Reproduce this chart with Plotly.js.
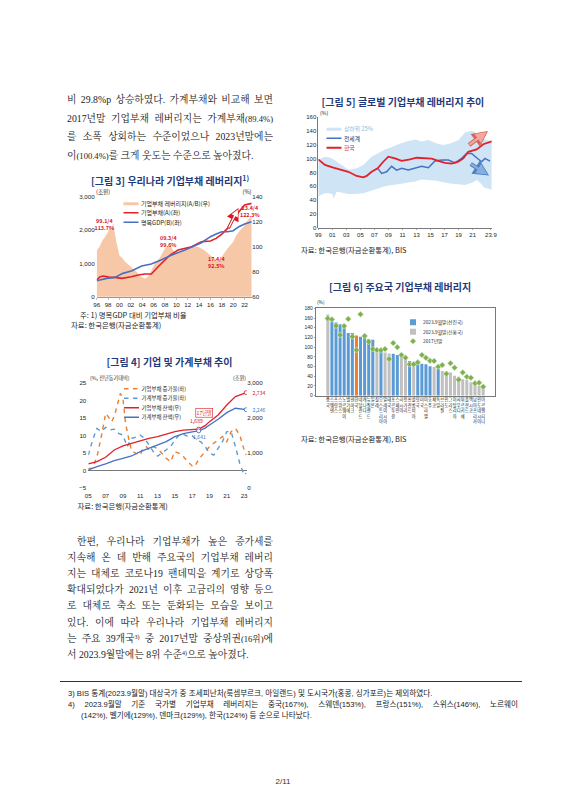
<!DOCTYPE html>
<html>
<head>
<meta charset="utf-8">
<script src="https://cdn.plot.ly/plotly-3.0.1.min.js"></script>
<style>
  html, body { margin: 0; padding: 0; background: #fff; overflow: hidden; }
  #page { position: relative; width: 566px; height: 800px; overflow: hidden; background: #fff; }
  #plot { position: absolute; left: 0; top: 0; width: 1132px; height: 1600px; transform: scale(0.5); transform-origin: 0 0; }
  .ln { position: absolute; height: 14px; line-height: 14px; color: #222; white-space: normal;
        font-family: 'Liberation Serif', 'Noto Serif CJK KR', 'Noto Sans CJK KR', serif; font-size: 9.8px;
        text-align: justify; text-align-last: justify; }
  .ln.last { text-align-last: left; }
  .sm { font-size: 8.6px; }
  .ln sup { font-size: 6px; line-height: 0; vertical-align: 3px; }
  .fn { position: absolute; height: 11px; line-height: 11px; color: #222; font-family: 'Liberation Sans', 'Noto Sans CJK KR', sans-serif;
        font-size: 7.6px; text-align: justify; text-align-last: justify; }
  .fn.last { text-align-last: left; }
  #rule { position: absolute; left: 60px; top: 681px; width: 462px; height: 0; border-top: 1px solid #333; }
  #pgno { position: absolute; left: 0; width: 566px; top: 777px; text-align: center; font-family: 'Liberation Sans', sans-serif; font-size: 8px; color: #333; }
</style>
</head>
<body>
<div id="page">
  <div id="plot"></div>

  <div class="ln" style="left:67px;top:93px;width:206px">비 29.8%p 상승하였다. 가계부채와 비교해 보면</div>
  <div class="ln" style="left:67px;top:111.5px;width:206px">2017년말 기업부채 레버리지는 가계부채<span class="sm">(89.4%)</span></div>
  <div class="ln" style="left:67px;top:130px;width:206px">를 소폭 상회하는 수준이었으나 2023년말에는</div>
  <div class="ln last" style="left:67px;top:148.5px;width:206px">이<span class="sm">(100.4%)</span>를 크게 웃도는 수준으로 높아졌다.</div>

  <div class="ln" style="left:77px;top:534.5px;width:196px">한편, 우리나라 기업부채가 높은 증가세를</div>
  <div class="ln" style="left:67px;top:550.7px;width:206px">지속해 온 데 반해 주요국의 기업부채 레버리</div>
  <div class="ln" style="left:67px;top:566.9px;width:206px">지는 대체로 코로나19 팬데믹을 계기로 상당폭</div>
  <div class="ln" style="left:67px;top:583.1px;width:206px">확대되었다가 2021년 이후 고금리의 영향 등으</div>
  <div class="ln" style="left:67px;top:599.3px;width:206px">로 대체로 축소 또는 둔화되는 모습을 보이고</div>
  <div class="ln" style="left:67px;top:615.5px;width:206px">있다. 이에 따라 우리나라 기업부채 레버리지</div>
  <div class="ln" style="left:67px;top:631.7px;width:206px">는 주요 39개국<sup>3)</sup> 중 2017년말 중상위권<span class="sm">(16위)</span>에</div>
  <div class="ln last" style="left:67px;top:647.9px;width:206px">서 2023.9월말에는 8위 수준<sup>4)</sup>으로 높아졌다.</div>

  <div id="rule"></div>
  <div class="fn last" style="left:68px;top:687.5px;width:450px">3) BIS 통계(2023.9월말) 대상국가 중 조세피난처(룩셈부르크, 아일랜드) 및 도시국가(홍콩, 싱가포르)는 제외하였다.</div>
  <div class="fn" style="left:68px;top:698.5px;width:450px">4) 2023.9월말 기준 국가별 기업부채 레버리지는 중국(167%), 스웨덴(153%), 프랑스(151%), 스위스(146%), 노르웨이</div>
  <div class="fn last" style="left:81px;top:709.5px;width:437px">(142%), 벨기에(129%), 덴마크(129%), 한국(124%) 등 순으로 나타났다.</div>

  <div id="pgno">2/11</div>
</div>

<script>
// ---- [그림 3] 우리나라 기업부채 레버리지 ----
const levYears = [1996, 1996.5, 1997, 1997.5, 1998, 1998.3, 1998.6, 1998.9, 1999.1, 1999.5, 2000, 2000.5, 2001, 2002, 2003, 2003.5, 2004, 2004.5, 2005, 2005.5, 2006, 2007, 2007.5, 2008, 2008.5, 2008.9, 2009.5, 2010, 2011, 2012, 2013, 2014, 2015, 2016, 2017, 2017.5, 2018, 2019, 2020, 2020.5, 2021, 2022, 2022.5, 2023, 2023.25];
const leverage = [97, 100, 105, 108, 112, 116, 113, 119, 113, 103, 93, 91, 88, 84, 80, 77, 75.5, 74.5, 76, 80, 85, 90.5, 94.5, 98.5, 100.5, 101, 97, 94.5, 96, 98.5, 100.5, 99.5, 97, 93, 89.5, 88.5, 92, 98.5, 104, 109, 112, 117, 121, 123.5, 124.5];
const corpDebtYears = [1996, 1996.6, 1997.2, 1998.3, 1999.2, 2000.4, 2002.1, 2003.3, 2004.5, 2005.6, 2006.8, 2008, 2008.9, 2010.3, 2012.7, 2014.4, 2016, 2017, 2018, 2019, 2020, 2021, 2022, 2023.25];
const corpDebt = [500, 600, 620, 580, 580, 550, 600, 650, 680, 680, 900, 1100, 1250, 1400, 1500, 1650, 1670, 1750, 1880, 2050, 2300, 2550, 2750, 2800];
const gdpYears = [1996, 1997.75, 1999.2, 2000.6, 2002.1, 2003.9, 2005.6, 2007.3, 2009.2, 2011.5, 2014.4, 2016, 2017, 2018, 2019, 2020, 2021, 2022, 2023.25];
const nominalGdp = [480, 550, 580, 700, 770, 920, 980, 1100, 1250, 1400, 1620, 1800, 1880, 1950, 1950, 1980, 2100, 2180, 2250];
const fig3Ticks = [1996, 1998, 2000, 2002, 2004, 2006, 2008, 2010, 2012, 2014, 2016, 2018, 2020, 2022];
const fig3TickText = ['96', '98', '00', '02', '04', '06', '08', '10', '12', '14', '16', '18', '20', '22'];

// ---- [그림 4] 기업 및 가계부채 추이 ----
const corpGrowthYears = [2005, 2005.5, 2006, 2006.5, 2007, 2007.3, 2007.7, 2008, 2008.3, 2008.7, 2009, 2009.3, 2009.7, 2010, 2010.5, 2011, 2011.3, 2011.7, 2012, 2012.5, 2013, 2013.5, 2014, 2014.5, 2015, 2015.5, 2016, 2016.5, 2017, 2017.3, 2017.7, 2018, 2018.5, 2019, 2019.5, 2020, 2020.5, 2021, 2021.5, 2022, 2022.5, 2023, 2023.25];
const corpGrowth = [0.7, 0.7, 4, 9.8, 16.4, 15.5, 14, 15.6, 18.3, 22.1, 20.7, 13.6, 8.8, 5.7, 5, 4.5, 6.4, 6.9, 6, 6.9, 6.4, 5, 3.6, 2.6, 5.5, 5, 4, 2.6, 1.4, 1.2, 3.1, 4, 5.5, 6.9, 7.9, 8.8, 9.8, 8.3, 11.2, 12.1, 10.2, 6, 4.5];
const hhGrowthYears = [2005, 2005.5, 2006, 2006.5, 2007, 2007.5, 2008, 2008.5, 2009, 2009.5, 2010, 2010.5, 2011, 2011.5, 2012, 2012.5, 2013, 2013.5, 2014, 2014.5, 2015, 2015.5, 2016, 2016.5, 2017, 2017.5, 2018, 2018.5, 2019, 2019.5, 2020, 2020.5, 2021, 2021.5, 2022, 2022.5, 2023, 2023.25];
const hhGrowth = [4.5, 8.8, 12.1, 11.2, 12.4, 11.7, 11.9, 10.7, 10.2, 6.9, 9.3, 9.6, 10.2, 9.3, 7.4, 5.5, 4.2, 5, 6, 6.9, 8.8, 10.2, 10.4, 9.8, 10, 8.8, 8.3, 6.9, 5, 4.5, 6.4, 8.3, 11.2, 11.2, 6.9, 2.1, -1.2, -0.7];
const balanceYears = [2005, 2006, 2007, 2008, 2009, 2010, 2011, 2012, 2013, 2014, 2015, 2016, 2017, 2017.75, 2018.5, 2019, 2020, 2021, 2022, 2023.25];
const corpBalance = [695, 762, 886, 1095, 1210, 1286, 1352, 1429, 1476, 1552, 1619, 1660, 1680, 1689, 1790, 1905, 2095, 2381, 2619, 2734];
const hhBalance = [524, 619, 695, 790, 857, 924, 1048, 1143, 1238, 1333, 1476, 1560, 1610, 1641, 1720, 1810, 1971, 2162, 2286, 2246];
const markedIdx = [13, 19]; // 17년말, 최근
const fig4Ticks = [2005, 2007, 2009, 2011, 2013, 2015, 2017, 2019, 2021, 2023];
const fig4TickText = ['05', '07', '09', '11', '13', '15', '17', '19', '21', '23'];

// ---- [그림 5] 글로벌 기업부채 레버리지 추이 ----
const bandYears = [1999, 1999.5, 2000, 2000.5, 2001, 2001.2, 2001.6, 2002.3, 2003.3, 2004.5, 2005.4, 2006.6, 2007.5, 2008.5, 2009.5, 2010.4, 2011.6, 2012.8, 2013.7, 2014.7, 2015.9, 2016.8, 2017.8, 2019, 2019.9, 2020.9, 2021.6, 2022.3, 2022.5, 2023, 2023.7];
const bandUpper = [98, 101, 103, 102, 100, 99, 96, 91, 84, 86, 91, 103, 108, 113.5, 117, 121, 125, 128, 125, 127, 122, 120, 122, 127, 138, 140.5, 137, 130, 129, 127, 125];
const bandLower = [45, 48, 50, 50, 49, 42.5, 52, 51, 49, 49, 50, 54, 57, 60, 62, 63, 65, 67, 70, 69, 68, 66, 64, 63, 62, 65, 69, 63, 59, 57, 55];
const worldYears = [2007.46, 2008.03, 2008.74, 2009.45, 2010.16, 2010.88, 2011.83, 2012.78, 2013.73, 2014.68, 2015.63, 2016.58, 2017.53, 2018.48, 2019.43, 2020.14, 2020.85, 2021.57, 2022.28, 2022.75, 2023.47];
const worldLev = [86, 78.7, 81, 89, 83.5, 86, 83.5, 86, 89, 87, 96.6, 98, 98, 94, 100.5, 107.7, 107.7, 101.4, 95.6, 100.5, 96.6];
const koreaYears = [1999, 1999.95, 2001.14, 2002.33, 2003.28, 2004.46, 2005.41, 2005.89, 2006.6, 2007.46, 2008.26, 2008.98, 2009.93, 2010.88, 2012.06, 2013.01, 2013.96, 2015.15, 2016.1, 2017.05, 2018, 2018.95, 2019.67, 2020.38, 2021.57, 2022.52, 2023.7];
const koreaLev = [99, 91, 87, 83.5, 81, 75, 73, 75, 81, 86, 95.6, 103, 100.5, 97, 99, 101.4, 100.5, 100, 97, 94, 93, 95.6, 100.5, 110, 113.5, 121, 125];
const fig5Ticks = [1999, 2001, 2003, 2005, 2007, 2009, 2011, 2013, 2015, 2017, 2019, 2021, 2023.6];
const fig5TickText = ['99', '01', '03', '05', '07', '09', '11', '13', '15', '17', '19', '21', '23.9'];

// ---- [그림 6] 주요국 기업부채 레버리지 ----
const countries = ['중국', '스웨덴', '프랑스', '스위스', '노르웨이', '벨기에', '덴마크', '한국', '네덜란드', '캐나다', '뉴질랜드', '일본',
  '칠레', '오스트리아', '말레이시아', '태국', '포르투갈', '스페인', '러시아', '헝가리', '핀란드', '콜롬비아', '영국', '미국',
  '이스라엘', '호주', '체코', '독일', '브라질', '인도', '그리스', '이탈리아', '사우디', '튀르키예', '폴란드', '멕시코',
  '남아프리카', '인도네시아', '아르헨티나'];
const lev2023 = [167, 152.5, 151, 147, 142, 129, 129, 124, 121.5, 120, 117, 115, 94, 92, 89, 87, 86.5, 84, 82, 77, 71.4, 70, 68.7, 66,
  64.6, 60.4, 59, 54.9, 50.8, 49.5, 48, 41, 39, 33.7, 32.3, 27.5, 25.4, 20.6, 16.5];
const lev2017 = [159, 157, 144, 125, 143.5, 158, 121.6, 94, 167.6, 123, 111, 96, 94, 93.4, 96, 75.5, 108.5, 100, 84, 78, 64.6, 64.6,
  68.7, 84, 78, 72, 71.4, 59.8, 63, 45, 67, 57.7, 33, 48, 39, 37, 25.4, 26.8, 18.5];
const group = ['신흥', '선진', '선진', '선진', '선진', '선진', '선진', '한국', '선진', '선진', '선진', '선진', '신흥', '선진', '신흥',
  '신흥', '선진', '선진', '신흥', '신흥', '선진', '신흥', '선진', '선진', '선진', '선진', '신흥', '선진', '신흥', '신흥', '신흥',
  '신흥', '신흥', '신흥', '신흥', '신흥', '신흥', '신흥', '신흥'];

const S = 2;                 // drawn at 2x, shown at half size
const W = 566, H = 800;
const SANS = 'Liberation Sans, Noto Sans CJK KR, sans-serif';
const KOR = 'Noto Sans CJK KR, Liberation Sans, sans-serif';
const px = x => x / W;
const py = y => 1 - y / H;
const font = (size, color, family) => ({family: family || SANS, size: size * S, color: color || '#262626'});

const pick = g => lev2023.map((v, i) => group[i] === g ? v : null);
const vertical = countries.map(n => [...n].join('<br>'));

const traces = [
    // fig 3
    {x: levYears, y: leverage, xaxis: 'x', yaxis: 'y', mode: 'lines', fill: 'tozeroy', fillcolor: '#f7c8a8',
        line: {width: 0, color: '#f7c8a8'}, name: '기업부채 레버리지(A/B)(우)', legend: 'legend'},
    {x: corpDebtYears, y: corpDebt, xaxis: 'x', yaxis: 'y2', mode: 'lines', line: {color: '#e3202a', width: 1.6 * S},
        name: '기업부채(A)(좌)', legend: 'legend'},
    {x: gdpYears, y: nominalGdp, xaxis: 'x', yaxis: 'y2', mode: 'lines', line: {color: '#4a6fbf', width: 1.6 * S},
        name: '명목GDP(B)(좌)', legend: 'legend'},
    // fig 4
    {x: corpGrowthYears, y: corpGrowth, xaxis: 'x2', yaxis: 'y3', mode: 'lines', line: {color: '#ed7d31', width: 1.4 * S, dash: 'dash'},
        name: '기업부채 증가율(좌)', legend: 'legend2'},
    {x: hhGrowthYears, y: hhGrowth, xaxis: 'x2', yaxis: 'y3', mode: 'lines', line: {color: '#5b9bd5', width: 1.4 * S, dash: 'dash'},
        name: '가계부채 증가율(좌)', legend: 'legend2'},
    {x: balanceYears, y: corpBalance, xaxis: 'x2', yaxis: 'y4', mode: 'lines', line: {color: '#e3202a', width: 1.3 * S},
        name: '기업부채 잔액(우)', legend: 'legend2'},
    {x: balanceYears, y: hhBalance, xaxis: 'x2', yaxis: 'y4', mode: 'lines', line: {color: '#4472c4', width: 1.3 * S},
        name: '가계부채 잔액(우)', legend: 'legend2'},
    {x: markedIdx.map(i => balanceYears[i]), y: markedIdx.map(i => corpBalance[i]), xaxis: 'x2', yaxis: 'y4', mode: 'markers',
        marker: {symbol: 'circle', size: 4 * S, color: '#fff', line: {color: '#e3202a', width: 0.9 * S}}, showlegend: false},
    {x: markedIdx.map(i => balanceYears[i]), y: markedIdx.map(i => hhBalance[i]), xaxis: 'x2', yaxis: 'y4', mode: 'markers',
        marker: {symbol: 'circle', size: 4 * S, color: '#fff', line: {color: '#4472c4', width: 0.9 * S}}, showlegend: false},
    // fig 5
    {x: bandYears, y: bandLower, xaxis: 'x3', yaxis: 'y5', mode: 'lines', line: {width: 0, color: '#cfe4f5'}, showlegend: false},
    {x: bandYears, y: bandUpper, xaxis: 'x3', yaxis: 'y5', mode: 'lines', fill: 'tonexty', fillcolor: '#cfe4f5',
        line: {width: 0, color: '#cfe4f5'}, name: '<span style="color:#8dbbe3">상하위 25%</span>', legend: 'legend3'},
    {x: worldYears, y: worldLev, xaxis: 'x3', yaxis: 'y5', mode: 'lines', line: {color: '#4472c4', width: 1.5 * S},
        name: '전세계', legend: 'legend3'},
    {x: koreaYears, y: koreaLev, xaxis: 'x3', yaxis: 'y5', mode: 'lines', line: {color: '#e3202a', width: 1.8 * S},
        name: '<span style="color:#e3202a">한국</span>', legend: 'legend3'},
    // fig 6
    {type: 'bar', x: countries, y: pick('선진'), xaxis: 'x4', yaxis: 'y6', marker: {color: '#5b9bd5'},
        name: '2023.9월말(선진국)', legend: 'legend4'},
    {type: 'bar', x: countries, y: pick('신흥'), xaxis: 'x4', yaxis: 'y6', marker: {color: '#c0c0c0'},
        name: '2023.9월말(신흥국)', legend: 'legend4'},
    {type: 'bar', x: countries, y: pick('한국'), xaxis: 'x4', yaxis: 'y6', marker: {color: '#ed7d31'}, showlegend: false},
    {x: countries, y: lev2017, xaxis: 'x4', yaxis: 'y6', mode: 'markers',
        marker: {symbol: 'diamond', size: 4.6 * S, color: '#7fb04f', line: {color: '#d4e8c2', width: 0.6 * S}},
        name: '2017년말', legend: 'legend4'}
];

const baseAxis = {showgrid: false, zeroline: false, ticks: '', fixedrange: true};
const legendBase = {xanchor: 'left', yanchor: 'top', bgcolor: 'rgba(0,0,0,0)', borderwidth: 0, tracegroupgap: 0,
    itemwidth: 30, traceorder: 'normal'};

const ann = (text, x, y, size, color, extra) => Object.assign({
    text: text, x: px(x), y: py(y), xref: 'paper', yref: 'paper', showarrow: false,
    xanchor: 'center', yanchor: 'middle', font: font(size, color, KOR)
}, extra || {});
const arrow = (x0, y0, x1, y1, color, width, size) => ({
    text: '', x: px(x1), y: py(y1), xref: 'paper', yref: 'paper', showarrow: true,
    ax: (x0 - x1) * S, ay: (y0 - y1) * S, arrowhead: 2, arrowsize: size, arrowwidth: width * S, arrowcolor: color
});

const TITLE = '#1f3a7a';
const RED = '#d7191f';
const annotations = [
    ann('<b>[그림 3] 우리나라 기업부채 레버리지<sup>1)</sup></b>', 170, 180.7, 10, TITLE),
    ann('<b>[그림 4] 기업 및 가계부채 추이</b>', 169.5, 361.7, 10, TITLE),
    ann('<b>[그림 5] 글로벌 기업부채 레버리지 추이</b>', 403, 101.7, 10, TITLE),
    ann('<b>[그림 6] 주요국 기업부채 레버리지</b>', 400, 286.7, 10, TITLE),

    ann('(조원)', 103, 191.5, 5.6),
    ann('(%)', 247, 191.5, 5.6),
    ann('<b>99.1/4<br>113.7%</b>', 104.5, 224, 5.4, RED),
    ann('<b>09.3/4<br>99.6%</b>', 168.3, 241, 5.4, RED),
    ann('<b>17.4/4<br>92.5%</b>', 216.7, 262, 5.4, RED),
    ann('<b>23.4/4<br>122.3%</b>', 250, 211, 5.4, RED),
    arrow(228, 229, 238.5, 208, RED, 3.2, 0.8),
    arrow(228.4, 228.2, 237.9, 209.6, '#ffffff', 1.4, 1.0),
    ann('주: 1) 명목GDP 대비 기업부채 비율', 79, 314.7, 7.4, '#222', {xanchor: 'left'}),
    ann('자료: 한국은행(자금순환통계)', 70, 324.3, 7.4, '#222', {xanchor: 'left'}),

    ann('(%, 전년동기대비)', 89, 377.3, 5.2, '#333', {xanchor: 'left'}),
    ann('(조원)', 239.5, 377.3, 5.2),
    ann('2,734', 251.5, 392.3, 5.2, RED, {xanchor: 'left'}),
    ann('2,246', 251.5, 409.3, 5.2, '#4a7cc0', {xanchor: 'left'}),
    ann('1,689', 196.7, 420.8, 5.2, RED),
    ann('1,641', 199.5, 436.5, 5.2, '#4a7cc0'),
    ann('17년말', 204, 412.7, 5.2, RED, {bgcolor: '#ffffff', bordercolor: RED, borderwidth: 0.6 * S, borderpad: 0.4 * S}),
    ann('자료: 한국은행(자금순환통계)', 76.7, 505.5, 7.4, '#222', {xanchor: 'left'}),

    ann('(%)', 324, 112.7, 5.2),
    arrow(468.3, 145.5, 488, 131, '#d9645c', 4.2, 0.75),
    arrow(468.8, 145.1, 486.6, 132, '#f5a8a0', 2.2, 1.0),
    arrow(470, 163.5, 489, 175.5, '#4f7fc0', 4.2, 0.75),
    arrow(470.5, 163.8, 487.5, 174.6, '#86aee0', 2.2, 1.0),
    ann('자료: 한국은행(자금순환통계), BIS', 300, 249.3, 7.4, '#222', {xanchor: 'left'}),

    ann('(%)', 320.5, 301.7, 4.8),
    ann('자료: 한국은행(자금순환통계), BIS', 300, 439, 7.4, '#222', {xanchor: 'left'})
];

const layout = {
    width: W * S, height: H * S,
    margin: {l: 0, r: 0, t: 0, b: 0},
    paper_bgcolor: '#ffffff', plot_bgcolor: 'rgba(0,0,0,0)',
    font: font(6, '#262626'),
    barmode: 'overlay', bargap: 0.26,
    // fig 3
    xaxis: Object.assign({}, baseAxis, {domain: [px(96.7), px(251.7)], anchor: 'y', range: [1996, 2023.25],
        tickvals: fig3Ticks, ticktext: fig3TickText, tickfont: font(6.2), ticks: 'outside', ticklen: 2 * S,
        tickcolor: '#808080', showline: true, linecolor: '#808080', linewidth: 0.8 * S}),
    yaxis: Object.assign({}, baseAxis, {domain: [py(296.7), py(196.7)], anchor: 'x', side: 'right', range: [60, 140],
        dtick: 20, tickfont: font(6.2)}),
    yaxis2: Object.assign({}, baseAxis, {overlaying: 'y', anchor: 'x', side: 'left', range: [0, 3000], dtick: 1000,
        tickformat: ',', tickfont: font(6.2), ticklabelstandoff: 1.5 * S}),
    // fig 4
    xaxis2: Object.assign({}, baseAxis, {domain: [px(88.3), px(246.7)], anchor: 'y3', range: [2005, 2023.3],
        tickvals: fig4Ticks, ticktext: fig4TickText, tickfont: font(6.2), ticklabelstandoff: 2.5 * S}),
    yaxis3: Object.assign({}, baseAxis, {domain: [py(488.3), py(383.3)], anchor: 'x2', range: [-5, 25], dtick: 5,
        tickfont: font(6.2), zeroline: true, zerolinecolor: '#404040', zerolinewidth: 0.7 * S, ticklabelstandoff: 1.5 * S}),
    yaxis4: Object.assign({}, baseAxis, {overlaying: 'y3', anchor: 'x2', side: 'right', range: [0, 3000], dtick: 1000,
        tickformat: ',', tickfont: font(6.2)}),
    // fig 5
    xaxis3: Object.assign({}, baseAxis, {domain: [px(318.3), px(492.3)], anchor: 'y5', range: [1999, 2023.8],
        tickvals: fig5Ticks, ticktext: fig5TickText, tickfont: font(6), showline: true, linecolor: '#595959',
        linewidth: 0.8 * S, ticks: 'outside', ticklen: 1.5 * S, tickcolor: '#595959'}),
    yaxis5: Object.assign({}, baseAxis, {domain: [py(227.7), py(117.3)], anchor: 'x3', range: [0, 160], dtick: 20,
        tickfont: font(6), showline: true, linecolor: '#595959', linewidth: 0.8 * S}),
    // fig 6
    xaxis4: Object.assign({}, baseAxis, {domain: [px(316), px(495)], anchor: 'y6', type: 'category',
        tickvals: countries, ticktext: vertical, tickangle: 0, tickfont: font(4.2, '#1a1a1a', KOR),
        showline: true, mirror: true, linecolor: '#404040', linewidth: 0.7 * S}),
    yaxis6: Object.assign({}, baseAxis, {domain: [py(395.7), py(308.3)], anchor: 'x4', range: [0, 180], dtick: 20,
        tickfont: font(5), showline: true, mirror: true, linecolor: '#404040', linewidth: 0.7 * S,
        ticks: 'outside', ticklen: 1.5 * S, tickcolor: '#404040'}),

    showlegend: true,
    legend: Object.assign({}, legendBase, {x: px(121), y: py(196), font: font(6, '#262626', KOR)}),
    legend2: Object.assign({}, legendBase, {x: px(121.5), y: py(381.5), font: font(5.4, '#262626', KOR)}),
    legend3: Object.assign({}, legendBase, {x: px(324), y: py(121.5), font: font(5.8, '#203864', KOR)}),
    legend4: Object.assign({}, legendBase, {x: px(403), y: py(315), font: font(4.8, '#262626', KOR)}),
    annotations: annotations
};

Plotly.newPlot('plot', traces, layout, {staticPlot: true, displayModeBar: false});
</script>
</body>
</html>
